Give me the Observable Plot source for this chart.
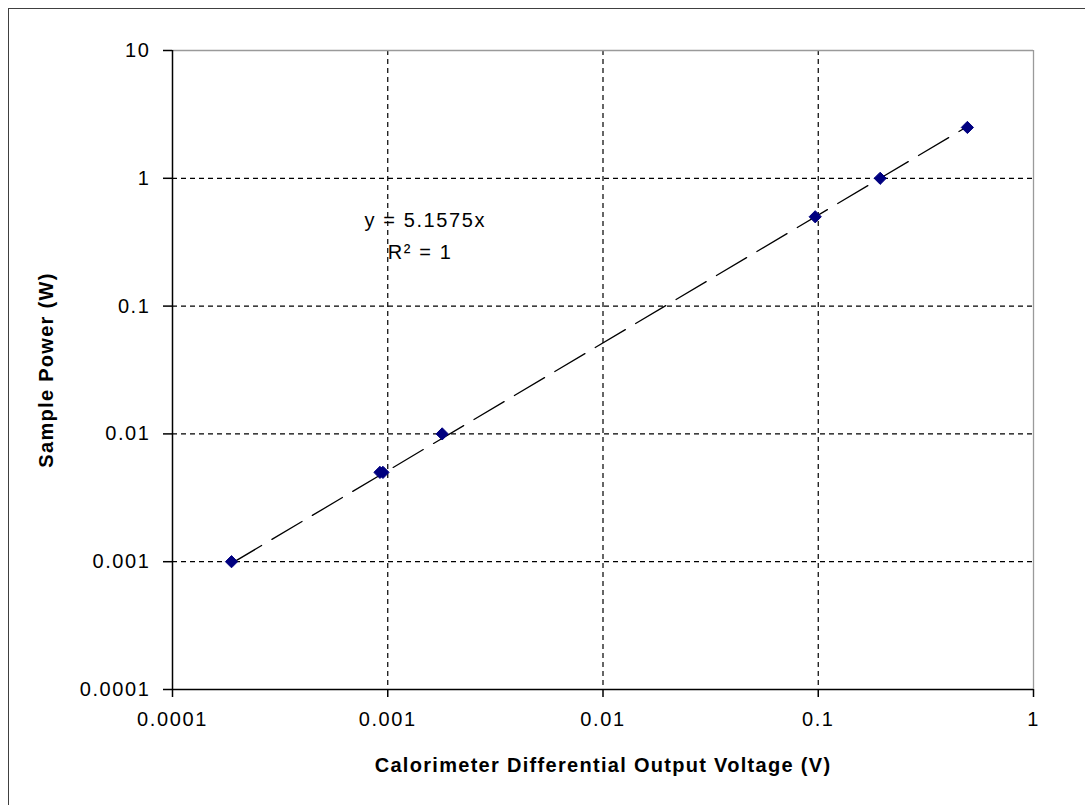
<!DOCTYPE html>
<html>
<head>
<meta charset="utf-8">
<script src="https://cdn.jsdelivr.net/npm/d3@7"></script>
<script src="https://cdn.jsdelivr.net/npm/@observablehq/plot@0.6"></script>
<style>
  html, body { margin: 0; padding: 0; background: #fff; }
  #wrap { position: relative; width: 1085px; height: 805px; overflow: hidden; }
  #frame { position: absolute; left: 8px; top: 8px; width: 1200px; height: 1000px;
           border-left: 1.5px solid #404040; border-top: 1.5px solid #404040; box-sizing: border-box; }
  #chart { position: absolute; left: 0; top: 0; }
  #chart svg { font-family: "Liberation Sans", Arial, sans-serif; }
  #chart .tick-lab text { letter-spacing: 1.6px; }
  #chart .title-lab text { letter-spacing: 1.3px; }
</style>
</head>
<body>
<div id="wrap"><div id="frame"></div><div id="chart"></div></div>
<script>
// ---- data ----
const xVolts = [0.000188, 0.00092, 0.00095, 0.00179, 0.0968, 0.194, 0.493];
const yPower = [0.001, 0.005, 0.005, 0.01, 0.5, 1, 2.5];
const trendSlope = 5.1575;
const trendText = ["y = 5.1575x", "R\u00B2 = 1"];
const xTicks = [0.0001, 0.001, 0.01, 0.1, 1];
const xTickLabels = ["0.0001", "0.001", "0.01", "0.1", "1"];
const yTicks = [0.0001, 0.001, 0.01, 0.1, 1, 10];
const yTickLabels = ["0.0001", "0.001", "0.01", "0.1", "1", "10"];
const xGrid = [0.001, 0.01, 0.1];
const yGrid = [0.001, 0.01, 0.1, 1];
const xTitle = "Calorimeter Differential Output Voltage (V)";
const yTitle = "Sample Power (W)";

const points = xVolts.map((x, i) => ({x, y: yPower[i]}));
const xMin = d3.min(xVolts), xMax = d3.max(xVolts);
const trend = [xMin, xMax].map(x => ({x, y: trendSlope * x}));
const annot = [
  {x: 0.00078, y: 0.47, t: trendText[0]},
  {x: 0.00100, y: 0.26, t: trendText[1]}
];
const xLab = new Map(xTicks.map((t, i) => [t, xTickLabels[i]]));
const yLab = new Map(yTicks.map((t, i) => [t, yTickLabels[i]]));

const chart = Plot.plot({
  width: 1085,
  height: 805,
  marginLeft: 172,
  marginRight: 52,
  marginTop: 50,
  marginBottom: 116,
  style: {background: "transparent", color: "#000"},
  x: {type: "log", domain: [1e-4, 1]},
  y: {type: "log", domain: [1e-4, 10]},
  marks: [
    Plot.gridX(xGrid, {stroke: "#000", strokeOpacity: 1, strokeWidth: 1.2, strokeDasharray: "5,4"}),
    Plot.gridY(yGrid, {stroke: "#000", strokeOpacity: 1, strokeWidth: 1.2, strokeDasharray: "5,4"}),
    Plot.ruleY([10], {stroke: "#9a9a9a", strokeWidth: 1.3}),
    Plot.ruleX([1], {stroke: "#9a9a9a", strokeWidth: 1.3}),
    Plot.ruleX([1e-4], {stroke: "#000", strokeWidth: 1.5}),
    Plot.ruleY([1e-4], {stroke: "#000", strokeWidth: 1.5}),
    Plot.axisX(xTicks, {tickSize: 8, tickPadding: 14, fontSize: 20, label: null,
      tickFormat: d => xLab.get(d), className: "tick-lab", strokeWidth: 1.5}),
    Plot.axisY(yTicks, {tickSize: 9, tickPadding: 13, fontSize: 20, label: null,
      tickFormat: d => yLab.get(d), className: "tick-lab", strokeWidth: 1.5}),
    Plot.line(trend, {x: "x", y: "y", stroke: "#000", strokeWidth: 1.3, strokeDasharray: "35,12"}),
    Plot.dot(points, {x: "x", y: "y", symbol: "diamond2", r: 5.5, fill: "#000080", stroke: "#000080", strokeWidth: 1}),
    Plot.text(annot, {x: "x", y: "y", text: "t", textAnchor: "start", fontSize: 20, fill: "#000", className: "tick-lab"}),
    Plot.text([xTitle], {frameAnchor: "bottom", textAnchor: "middle", dy: 82, fontSize: 20, fontWeight: "bold", fill: "#000", className: "title-lab"}),
    Plot.text([yTitle], {frameAnchor: "left", textAnchor: "middle", dx: -126, rotate: -90, fontSize: 20, fontWeight: "bold", fill: "#000", className: "title-lab"})
  ]
});
document.getElementById("chart").append(chart);
</script>
</body>
</html>
